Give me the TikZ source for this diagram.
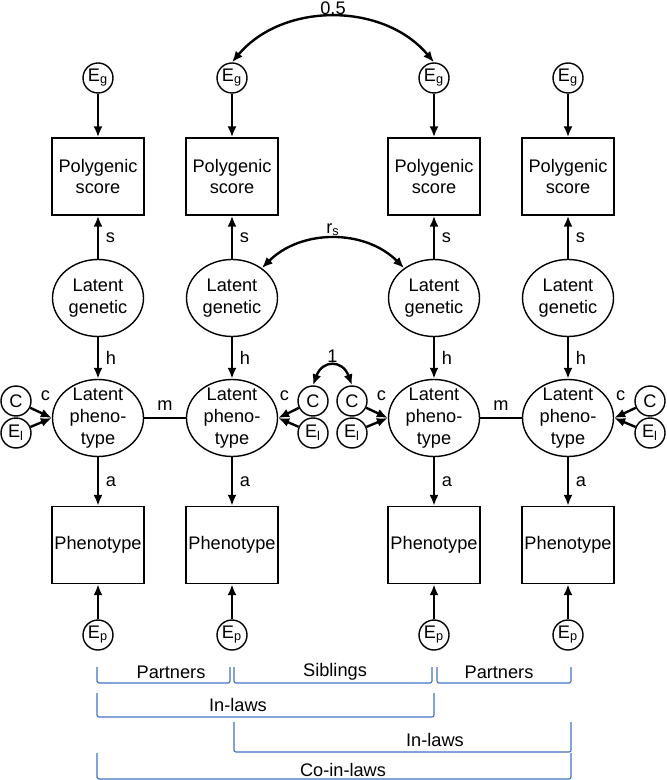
\documentclass[tikz,border=0pt]{standalone}
\usepackage{fontspec}
\setmainfont{Liberation Sans}
\usepackage{tikz}
\usetikzlibrary{arrows, arrows.meta, shapes.geometric, calc, positioning}
\definecolor{brkblue}{RGB}{68,114,196}

\begin{document}
\begin{tikzpicture}[x=0.5pt, y=0.5pt, >={Latex[length=5.5pt,width=4.5pt]},
		font=\fontsize{9.1pt}{10.9pt}\selectfont,
		obs/.style={draw, line width=0.7pt, rectangle, minimum width=46pt, minimum height=38.5pt, inner sep=0pt, align=center},
		lat/.style={draw, line width=0.7pt, ellipse, minimum width=45.5pt, minimum height=38.5pt, inner sep=0pt, align=center},
		err/.style={draw, line width=0.7pt, circle, minimum size=15pt, inner sep=0pt},
		reg/.style={line width=1.2pt, ->},
		cov/.style={line width=1.2pt, <->},
		brk/.style={draw=brkblue, line width=0.6pt, rounded corners=1pt},
	]
	\useasboundingbox (0,0) rectangle (666,-780);

	% one column per person
	\foreach \x [count=\i] in {98,232,434,568} {
		\node[err] (eg\i) at (\x,-78) {E\textsubscript{g}};
		\node[obs] (pgs\i) at (\x,-176.5) {Polygenic\\score};
		\node[lat] (lg\i) at (\x,-298) {Latent\\genetic};
		\node[lat] (lp\i) at (\x,-418) {};
		\node[align=center, inner sep=0pt] (lpt\i) at (lp\i) {Latent\\pheno-\\type};
		\node[obs] (ph\i) at (\x,-545) {Phenotype};
		\node[err] (ep\i) at (\x,-635) {E\textsubscript{p}};

		\draw[reg] (eg\i) -- (pgs\i);
		\draw[reg] (lg\i) -- node[right] (s\i) {s} (pgs\i);
		\draw[reg] (lg\i) -- node[right] (h\i) {h} (lp\i);
		\draw[reg] (lp\i) -- node[right] (a\i) {a} (ph\i);
		\draw[reg] (ep\i) -- (ph\i);
	}

	% shared and unique environment
	\node[err] (c1) at (16,-401) {C};
	\node[err] (el1) at (16,-433) {E\textsubscript{l}};
	\node[err] (c2) at (313,-401) {C};
	\node[err] (el2) at (313,-433) {E\textsubscript{l}};
	\node[err] (c3) at (352,-401) {C};
	\node[err] (el3) at (352,-433) {E\textsubscript{l}};
	\node[err] (c4) at (650,-401) {C};
	\node[err] (el4) at (650,-433) {E\textsubscript{l}};

	\draw[reg] (c1) -- node[pos=0.7, above=3pt] (cl1) {c} (lp1.west);
	\draw[reg] (el1) -- (lp1.west);
	\draw[reg] (c2) -- node[pos=0.7, above=3pt] (cl2) {c} (lp2.east);
	\draw[reg] (el2) -- (lp2.east);
	\draw[reg] (c3) -- node[pos=0.7, above=3pt] (cl3) {c} (lp3.west);
	\draw[reg] (el3) -- (lp3.west);
	\draw[reg] (c4) -- node[pos=0.7, above=3pt] (cl4) {c} (lp4.east);
	\draw[reg] (el4) -- (lp4.east);

	% mating
	\draw[line width=0.7pt] (lp1) -- node[above] (m1) {m} (lp2);
	\draw[line width=0.7pt] (lp3) -- node[above] (m2) {m} (lp4);

	% covariances
	\draw[cov] (eg2.north) to[out=50, in=130] node[above, inner sep=0.5pt] (half) {0.5} (eg3.north);
	\draw[cov] (lg2.45) to[out=45, in=135] node[above, inner sep=1pt] (rs) {r\textsubscript{s}} (lg3.135);
	\draw[cov] (c2.north) to[out=70, in=110, looseness=1.8] node[above, inner sep=1pt] (one) {1} (c3.north);

	% relations
	\foreach \xa/\xb/\ya/\yb/\xt/\yt/\txt [count=\j] in {
		97/230/667/683/171/672/Partners,
		234/432/667/683/335/672/Siblings,
		437/571/667/683/499/672/Partners,
		97/434/693/717/238/705/In-laws,
		234/571/722/752/435/740/In-laws,
		97/571/753/779/343/770/Co-in-laws} {
		\draw[brk] (\xa,-\ya) -- (\xa,-\yb) -- (\xb,-\yb) -- (\xb,-\ya);
		\node (rel\j) at (\xt,-\yt) {\txt};
	}
\end{tikzpicture}
\end{document}
